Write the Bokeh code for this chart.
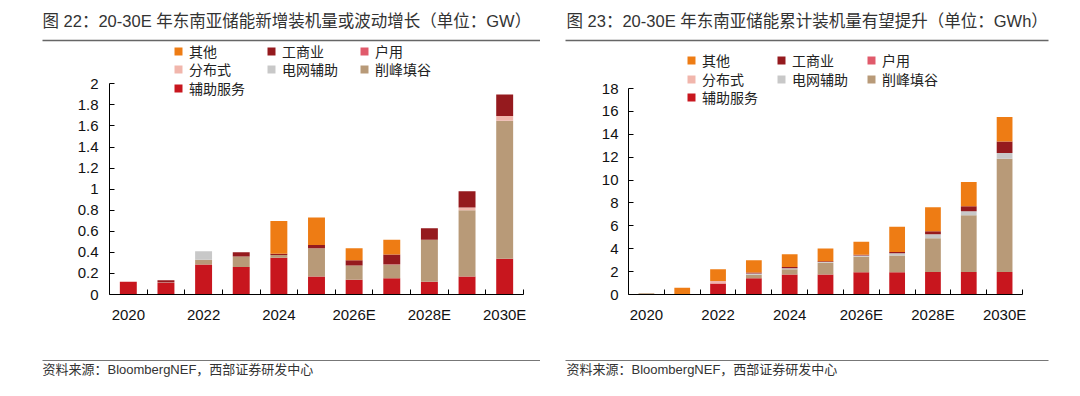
from bokeh.plotting import figure
from bokeh.models import (ColumnDataSource, FixedTicker, Legend, LegendItem, Label,
                          BoxAnnotation, Range1d, PrintfTickFormatter)
from bokeh.layouts import row, column
from bokeh.embed import file_html
from bokeh.resources import INLINE

# ---------------- data ----------------
years = ["2020", "2021", "2022", "2023", "2024", "2025E", "2026E", "2027E", "2028E", "2029E", "2030E"]
shown_years = ["2020", "2022", "2024", "2026E", "2028E", "2030E"]
series = ["辅助服务", "削峰填谷", "电网辅助", "分布式", "户用", "工商业", "其他"]
colors = ["#C8161E", "#B89A78", "#C8C8C8", "#F1B6AC", "#E05A6B", "#951A1E", "#EE7C14"]
legend_rows = [["其他", "工商业", "户用"], ["分布式", "电网辅助", "削峰填谷"], ["辅助服务"]]

# new installations (GW)
new_fuzhu = [0.12, 0.11, 0.285, 0.26, 0.35, 0.17, 0.14, 0.155, 0.12, 0.17, 0.34]
new_xiaofeng = [0, 0, 0.045, 0.10, 0.025, 0.27, 0.135, 0.125, 0.40, 0.63, 1.31]
new_dianwang = [0, 0, 0.08, 0, 0, 0, 0, 0, 0, 0, 0]
new_fenbu = [0, 0.005, 0, 0, 0, 0, 0, 0.005, 0, 0.025, 0.045]
new_huyong = [0, 0, 0, 0, 0, 0, 0, 0, 0, 0, 0]
new_gongshang = [0, 0.02, 0, 0.04, 0.012, 0.03, 0.05, 0.095, 0.11, 0.155, 0.205]
new_qita = [0, 0, 0, 0, 0.31, 0.26, 0.115, 0.14, 0, 0, 0]

# cumulative installations (GWh)
cum_fuzhu = [0, 0, 0.96, 1.43, 1.75, 1.75, 1.95, 1.95, 1.97, 1.97, 1.97]
cum_xiaofeng = [0.1, 0, 0, 0.3, 0.45, 1.02, 1.35, 1.45, 2.95, 4.95, 9.9]
cum_dianwang = [0, 0, 0, 0.1, 0.1, 0.08, 0.1, 0.2, 0.35, 0.35, 0.5]
cum_fenbu = [0, 0, 0.23, 0, 0, 0, 0, 0, 0, 0, 0]
cum_huyong = [0, 0, 0, 0, 0, 0, 0, 0, 0, 0, 0]
cum_gongshang = [0, 0, 0, 0.1, 0.1, 0.05, 0.08, 0.12, 0.25, 0.45, 1.0]
cum_qita = [0, 0.6, 1.02, 1.07, 1.12, 1.13, 1.12, 2.2, 2.1, 2.1, 2.15]

y_ticks_new = [0, 0.2, 0.4, 0.6, 0.8, 1, 1.2, 1.4, 1.6, 1.8, 2]
y_ticks_cum = [0, 2, 4, 6, 8, 10, 12, 14, 16, 18]

title_new = "图 22：20-30E 年东南亚储能新增装机量或波动增长（单位：GW）"
title_cum = "图 23：20-30E 年东南亚储能累计装机量有望提升（单位：GWh）"
source_text = "资料来源：BloombergNEF，西部证券研发中心"

FONT = "Liberation Sans, Noto Sans CJK SC"

W = 540
HEAD_H, CHART_H, FOOT_H = 42, 310, 44


def blank(height):
    f = figure(width=W, height=height, output_backend="svg", toolbar_location=None,
               x_axis_type=None, y_axis_type=None,
               x_range=Range1d(0, W), y_range=Range1d(0, height),
               min_border=0, min_border_left=0, min_border_right=0,
               min_border_top=0, min_border_bottom=0)
    f.outline_line_color = None
    f.grid.visible = False
    return f


def header(title, cfg):
    f = blank(HEAD_H)
    f.add_layout(Label(x=cfg["tx"], y=HEAD_H - 20, text=title, text_font=FONT,
                       text_font_size="16.5px", text_color="#333333",
                       text_baseline="middle", text_align="left"))
    f.add_layout(BoxAnnotation(left=cfg["lx0"], right=cfg["lx1"], bottom=1.2, top=2.8,
                               fill_color="#666666", fill_alpha=1, line_color=None))
    return f


def footer(cfg):
    f = blank(FOOT_H)
    f.add_layout(BoxAnnotation(left=cfg["lx0"], right=cfg["lx1"], bottom=FOOT_H - 8.6, top=FOOT_H - 7.4,
                               fill_color="#777777", fill_alpha=1, line_color=None))
    f.add_layout(Label(x=cfg["tx"], y=FOOT_H - 17, text=source_text, text_font=FONT,
                       text_font_size="13px", text_color="#333333",
                       text_baseline="middle", text_align="left"))
    return f


def chart(vals, y_ticks, cfg):
    bl, br, bt, bb = cfg["bl"], cfg["br"], cfg["bt"], cfg["bb"]
    frame_h = CHART_H - bt - bb
    y_max = y_ticks[-1]
    y_end = y_max * frame_h / cfg["px_to_max"]
    p = figure(width=W, height=CHART_H, output_backend="svg", toolbar_location=None,
               min_border_left=bl, min_border_right=br, min_border_top=bt, min_border_bottom=bb,
               x_range=Range1d(-0.5, len(years) - 0.5), y_range=Range1d(0, y_end))
    p.outline_line_color = None
    p.grid.visible = False

    data = {"x": list(range(len(years)))}
    for s, v in zip(series, vals):
        data[s] = v
    src = ColumnDataSource(data)
    rends = p.vbar_stack(series, x="x", width=cfg["bw"], color=colors, line_color=None, source=src)
    rmap = dict(zip(series, rends))

    xa = p.xaxis[0]
    xa.ticker = FixedTicker(ticks=[years.index(y) for y in shown_years],
                            minor_ticks=[i + 0.5 for i in range(len(years))])
    xa.major_label_overrides = {years.index(y): y for y in shown_years}
    xa.major_tick_in = 0
    xa.major_tick_out = 0
    xa.minor_tick_in = 5
    xa.minor_tick_out = 0
    xa.minor_tick_line_color = "black"
    xa.axis_line_color = "black"
    xa.major_label_text_font = FONT
    xa.major_label_text_font_size = "15px"
    xa.major_label_text_color = "#111111"
    xa.major_label_standoff = 11

    ya = p.yaxis[0]
    ya.ticker = FixedTicker(ticks=y_ticks)
    ya.formatter = PrintfTickFormatter(format="%g")
    ya.bounds = (0, y_max)
    ya.major_tick_in = 5
    ya.major_tick_out = 0
    ya.minor_tick_in = 0
    ya.minor_tick_out = 0
    ya.axis_line_color = "black"
    ya.major_label_text_font = FONT
    ya.major_label_text_font_size = "15px"
    ya.major_label_text_color = "#111111"
    ya.major_label_standoff = cfg["ystand"]

    fb = CHART_H - bb
    LH = 15
    for i, names in enumerate(legend_rows):
        items = [LegendItem(label=n, renderers=[rmap[n]]) for n in names]
        top = cfg["leg_y"][i] - 6.5
        leg = Legend(items=items, orientation="horizontal",
                     location=(cfg["leg_x"], fb - (top + LH)),
                     glyph_width=10, glyph_height=10, label_height=LH, label_width=cfg["lw"],
                     label_standoff=6, spacing=cfg["sp"], padding=0, margin=0,
                     border_line_color=None, background_fill_alpha=0,
                     label_text_font=FONT, label_text_font_size="14px",
                     label_text_color="#222222")
        p.add_layout(leg)
    return p


cfg_left = dict(bl=109, br=17, bt=2, bb=54, px_to_max=214, bw=0.45, ystand=11,
                leg_x=64, leg_y=[14.7, 32.7, 51.3], lw=68, sp=9,
                tx=42, lx0=42, lx1=540)
cfg_right = dict(bl=88, br=58, bt=2, bb=58, px_to_max=206, bw=0.44, ystand=10,
                 leg_x=58, leg_y=[19.3, 38, 56], lw=66, sp=8,
                 tx=26, lx0=25, lx1=508)

c1 = chart([new_fuzhu, new_xiaofeng, new_dianwang, new_fenbu, new_huyong, new_gongshang, new_qita],
           y_ticks_new, cfg_left)
c2 = chart([cum_fuzhu, cum_xiaofeng, cum_dianwang, cum_fenbu, cum_huyong, cum_gongshang, cum_qita],
           y_ticks_cum, cfg_right)

layout = column(row(header(title_new, cfg_left), header(title_cum, cfg_right)),
                row(c1, c2),
                row(footer(cfg_left), footer(cfg_right)))
open("out.html", "w").write(file_html(layout, INLINE))
